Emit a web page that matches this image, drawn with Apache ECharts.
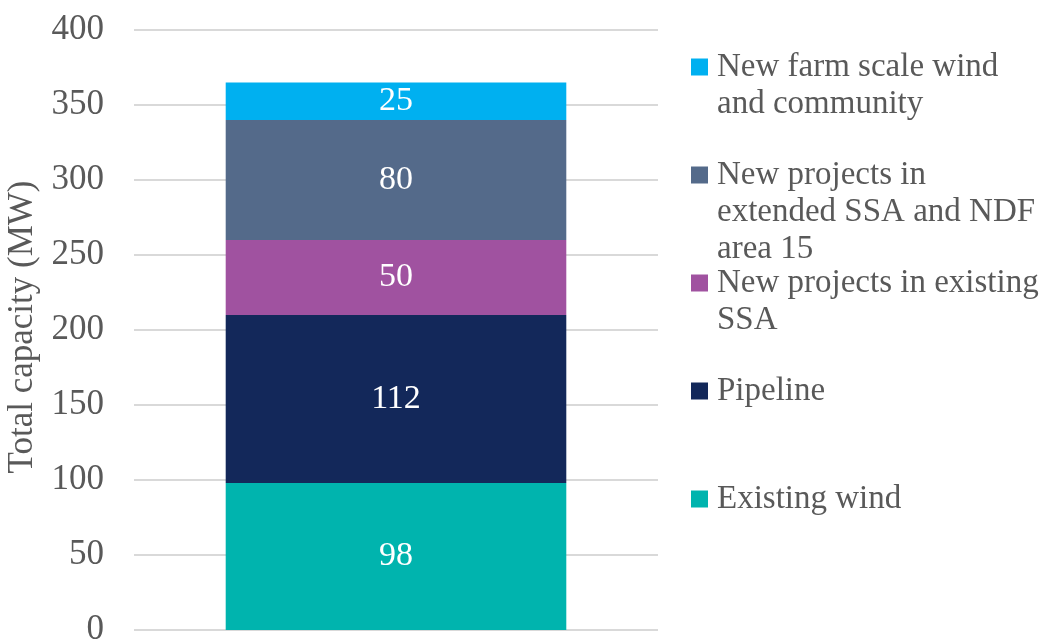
<!DOCTYPE html>
<html>
<head>
<meta charset="utf-8">
<script src="https://cdn.jsdelivr.net/npm/echarts@6/dist/echarts.min.js"></script>
<style>
  html, body { margin: 0; padding: 0; background: #fff; }
  #chart { width: 1046px; height: 639px; }
</style>
</head>
<body>
<div id="chart"></div>
<script>
// stacked from bottom to top
const seriesNames = [
  "Existing wind",
  "Pipeline",
  "New projects in existing\nSSA",
  "New projects in\nextended SSA and NDF\narea 15",
  "New farm scale wind\nand community"
];
const seriesValues = [98, 112, 50, 80, 25];
const seriesColors = ["#00B4AE", "#13285A", "#A052A0", "#546A8A", "#00B0F0"];
const categories = [""];
const yTicks = { min: 0, max: 400, interval: 50 };

const fontFamily = "'Liberation Serif', 'DejaVu Serif', serif";
const textColor = "#595959";

let chart = echarts.init(document.getElementById("chart"));

let series = [];
for (let i = 0; i < seriesNames.length; i++) {
  series.push({
    name: seriesNames[i],
    type: "bar",
    stack: "total",
    barWidth: "65%",
    itemStyle: { color: seriesColors[i] },
    label: {
      show: true,
      position: "inside",
      color: "#fff",
      fontFamily: fontFamily,
      fontSize: 34
    },
    data: [seriesValues[i]]
  });
}

// one legend per item so they can be spaced evenly like the original.
// blank lines in front keep the icon level with the first text line
let legendTops = { 4: 11.5, 3: 82.5, 2: 227.5, 1: 372.5, 0: 480.5 };
let legends = [];
for (let i = seriesNames.length - 1; i >= 0; i--) {
  let lines = seriesNames[i].split("\n").length;
  legends.push({
    data: [seriesNames[i]],
    left: 691,
    top: legendTops[i],
    padding: 0,
    orient: "vertical",
    icon: "rect",
    itemWidth: 17,
    itemHeight: 17,
    selectedMode: false,
    formatter: function (name) {
      return "\n".repeat(lines - 1) + name;
    },
    textStyle: {
      color: textColor,
      fontFamily: fontFamily,
      fontSize: 33,
      lineHeight: 37,
      padding: [0, 0, 0, 4]
    }
  });
}

let option = {
  animation: false,
  legend: legends,
  grid: { left: 134, right: 388, top: 30, bottom: 9, outerBoundsMode: "none", containLabel: false },
  xAxis: {
    type: "category",
    data: categories,
    axisLine: { show: false },
    axisTick: { show: false },
    axisLabel: { show: false }
  },
  yAxis: {
    type: "value",
    min: yTicks.min,
    max: yTicks.max,
    interval: yTicks.interval,
    name: "Total capacity (MW)",
    nameLocation: "middle",
    nameGap: 76,
    nameTextStyle: {
      color: textColor,
      fontFamily: fontFamily,
      fontSize: 35,
      padding: [0, 0, 0, 6]
    },
    axisLabel: { color: textColor, fontFamily: fontFamily, fontSize: 35, margin: 30 },
    axisLine: { show: false },
    axisTick: { show: false },
    splitLine: { lineStyle: { color: "#d9d9d9", width: 2 } }
  },
  series: series
};
chart.setOption(option);
</script>
</body>
</html>
